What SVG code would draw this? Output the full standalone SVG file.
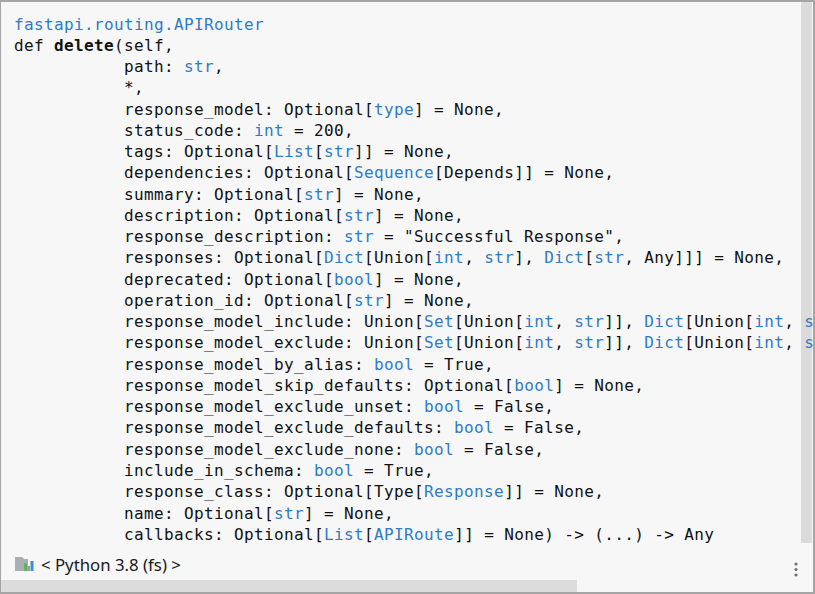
<svg xmlns="http://www.w3.org/2000/svg" width="815" height="594" viewBox="0 0 815 594">
<style>
.code{font-family:"DejaVu Sans Mono","Liberation Mono",monospace;font-size:16px;letter-spacing:0.37px;fill:#111111;white-space:pre}
.t{fill:#2f7bc8}
.b{font-weight:bold}
.status{font-family:"Noto Sans","Liberation Sans",sans-serif;font-size:16.8px;fill:#1a1a1a}
</style>
<defs>
<clipPath id="codeclip"><rect x="0" y="0" width="813" height="560"/></clipPath>
</defs>
<rect x="0" y="0" width="815" height="594" fill="#f7f7f7"/>
<g id="vscroll">
<rect x="801" y="2" width="11" height="541" rx="1" fill="#dbdbdb"/>
</g>
<g id="code" clip-path="url(#codeclip)" xml:space="preserve">
<text class="code" x="14" y="29.5"><tspan class="t">fastapi.routing.APIRouter</tspan></text>
<text class="code" x="14" y="50.8">def <tspan class="b">delete</tspan>(self,</text>
<text class="code" x="124" y="72">path: <tspan class="t">str</tspan>,</text>
<text class="code" x="124" y="93.3">*,</text>
<text class="code" x="124" y="114.5">response_model: Optional[<tspan class="t">type</tspan>] = None,</text>
<text class="code" x="124" y="135.8">status_code: <tspan class="t">int</tspan> = 200,</text>
<text class="code" x="124" y="157.1">tags: Optional[<tspan class="t">List</tspan>[<tspan class="t">str</tspan>]] = None,</text>
<text class="code" x="124" y="178.3">dependencies: Optional[<tspan class="t">Sequence</tspan>[Depends]] = None,</text>
<text class="code" x="124" y="199.6">summary: Optional[<tspan class="t">str</tspan>] = None,</text>
<text class="code" x="124" y="220.8">description: Optional[<tspan class="t">str</tspan>] = None,</text>
<text class="code" x="124" y="242.1">response_description: <tspan class="t">str</tspan> = "Successful Response",</text>
<text class="code" x="124" y="263.4">responses: Optional[<tspan class="t">Dict</tspan>[Union[<tspan class="t">int</tspan>, <tspan class="t">str</tspan>], <tspan class="t">Dict</tspan>[<tspan class="t">str</tspan>, Any]]] = None,</text>
<text class="code" x="124" y="284.6">deprecated: Optional[<tspan class="t">bool</tspan>] = None,</text>
<text class="code" x="124" y="305.9">operation_id: Optional[<tspan class="t">str</tspan>] = None,</text>
<text class="code" x="124" y="327.1">response_model_include: Union[<tspan class="t">Set</tspan>[Union[<tspan class="t">int</tspan>, <tspan class="t">str</tspan>]], <tspan class="t">Dict</tspan>[Union[<tspan class="t">int</tspan>, <tspan class="t">s</tspan></text>
<text class="code" x="124" y="348.4">response_model_exclude: Union[<tspan class="t">Set</tspan>[Union[<tspan class="t">int</tspan>, <tspan class="t">str</tspan>]], <tspan class="t">Dict</tspan>[Union[<tspan class="t">int</tspan>, <tspan class="t">s</tspan></text>
<text class="code" x="124" y="369.7">response_model_by_alias: <tspan class="t">bool</tspan> = True,</text>
<text class="code" x="124" y="390.9">response_model_skip_defaults: Optional[<tspan class="t">bool</tspan>] = None,</text>
<text class="code" x="124" y="412.2">response_model_exclude_unset: <tspan class="t">bool</tspan> = False,</text>
<text class="code" x="124" y="433.4">response_model_exclude_defaults: <tspan class="t">bool</tspan> = False,</text>
<text class="code" x="124" y="454.7">response_model_exclude_none: <tspan class="t">bool</tspan> = False,</text>
<text class="code" x="124" y="476">include_in_schema: <tspan class="t">bool</tspan> = True,</text>
<text class="code" x="124" y="497.2">response_class: Optional[Type[<tspan class="t">Response</tspan>]] = None,</text>
<text class="code" x="124" y="518.5">name: Optional[<tspan class="t">str</tspan>] = None,</text>
<text class="code" x="124" y="539.8">callbacks: Optional[<tspan class="t">List</tspan>[<tspan class="t">APIRoute</tspan>]] = None) -&gt; (...) -&gt; Any</text>
</g>
<g id="status">
<path d="M15 557 H22 L24 559 H28 V571 H15 Z" fill="#a9afb5"/>
<rect x="24" y="563" width="3" height="8" fill="#5fb854"/>
<rect x="27.5" y="566" width="2.5" height="5" fill="#9aa0a6"/>
<rect x="30.5" y="561" width="3" height="10" fill="#3d8ee0"/>
<text class="status" x="41" y="570.5">&lt; Python 3.8 (fs) &gt;</text>
</g>
<g id="menu" fill="#6e6e6e">
<circle cx="796" cy="564" r="1.6"/>
<circle cx="796" cy="569.5" r="1.6"/>
<circle cx="796" cy="575" r="1.6"/>
</g>
<g id="hscroll">
<rect x="0" y="580" width="577" height="12" fill="#dcdcdc"/>
</g>
<g id="frame" fill="#a5a5a5">
<rect x="0" y="0" width="815" height="2"/>
<rect x="813" y="0" width="2" height="594"/>
<rect x="0" y="592" width="815" height="2"/>
<rect x="0" y="0" width="1" height="594"/>
</g>
</svg>
